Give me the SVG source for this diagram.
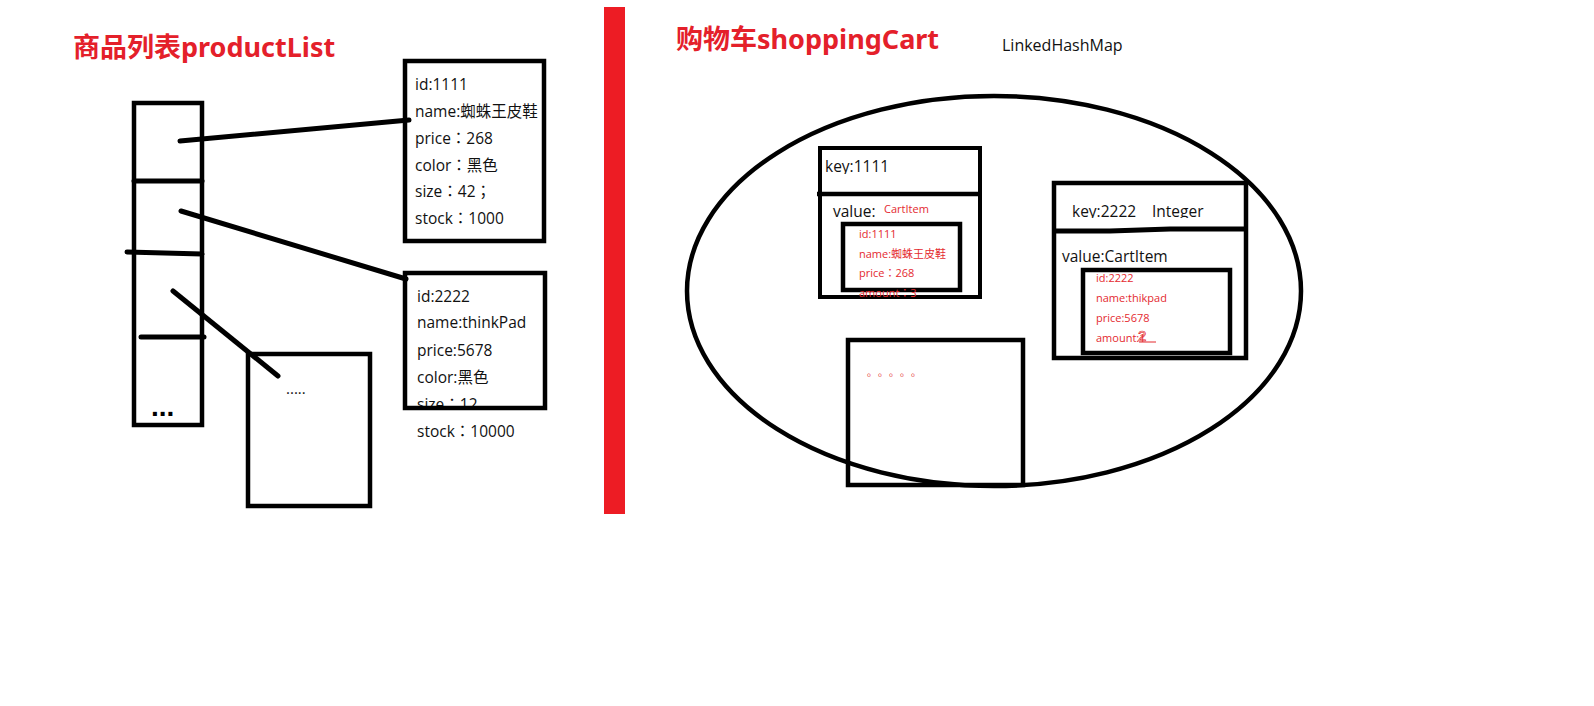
<svg xmlns="http://www.w3.org/2000/svg" width="1594" height="706" viewBox="0 0 1594 706">
<style>
.t{font-family:"Open Sans","Noto Sans CJK TC",sans-serif;font-size:15.5px;fill:#111}
.r{font-family:"Open Sans","Noto Sans CJK TC",sans-serif;font-size:11px;fill:#e42a2f}
.title{font-family:"Noto Sans","Noto Sans CJK SC",sans-serif;font-size:27px;font-weight:bold;fill:#e4202a}
.box{fill:none;stroke:#000;stroke-width:4.5}
.ln{fill:none;stroke:#000;stroke-width:5;stroke-linecap:round}
</style>
<defs>
<clipPath id="cSize"><rect x="405" y="380" width="140" height="30"/></clipPath>
<clipPath id="cAmt"><rect x="840" y="280" width="130" height="19"/></clipPath>
<clipPath id="cKey1"><rect x="820" y="150" width="160" height="24"/></clipPath>
<clipPath id="cKey2"><rect x="1056" y="190" width="188" height="28"/></clipPath>
</defs>
<rect width="1594" height="706" fill="#fff"/>

<text class="title" x="73" y="57">商品列表productList</text>
<text class="title" x="676" y="49">购物车shoppingCart</text>
<text class="t" x="1002" y="51" style="font-size:16px">LinkedHashMap</text>

<rect id="divider" x="604" y="7" width="21" height="507" fill="#ed1c24"/>

<g id="productList">
<rect class="box" x="134" y="103" width="68" height="322"/>
<line class="ln" x1="134" y1="181" x2="202" y2="181"/>
<line class="ln" x1="127" y1="252" x2="202" y2="254"/>
<line class="ln" x1="141" y1="337" x2="204" y2="337"/>
<text x="151" y="416" style="font-family:'Liberation Sans',sans-serif;font-size:28px;font-weight:bold;fill:#000">...</text>
</g>

<g id="product1">
<text class="t" x="415" y="90">id:1111</text>
<text class="t" x="415" y="117">name:蜘蛛王皮鞋</text>
<text class="t" x="415" y="144">price：268</text>
<text class="t" x="415" y="171">color：黑色</text>
<text class="t" x="415" y="197">size：42；</text>
<text class="t" x="415" y="224">stock：1000</text>
<rect class="box" x="405" y="61" width="139" height="180"/>
</g>

<g id="product2">
<text class="t" x="417" y="302">id:2222</text>
<text class="t" x="417" y="328">name:thinkPad</text>
<text class="t" x="417" y="356">price:5678</text>
<text class="t" x="417" y="383">color:黑色</text>
<text class="t" x="417" y="410" clip-path="url(#cSize)">size：12</text>
<text class="t" x="417" y="437">stock：10000</text>
<rect class="box" x="405" y="273" width="140" height="135"/>
</g>

<g id="productMore">
<rect class="box" x="248" y="354" width="122" height="152"/>
<text class="t" x="286" y="394" style="font-size:15px">.....</text>
</g>

<g id="connectors">
<line class="ln" x1="180" y1="141" x2="409" y2="120"/>
<line class="ln" x1="181" y1="211" x2="406" y2="279"/>
<line class="ln" x1="173" y1="291" x2="278" y2="376"/>
</g>

<g id="cartMap">
<ellipse cx="994" cy="291" rx="307" ry="195" fill="none" stroke="#000" stroke-width="4.5"/>
</g>

<g id="entry1">
<rect class="box" x="820" y="148" width="160" height="149" style="stroke-width:4"/>
<line class="ln" x1="817" y1="194" x2="980" y2="194" style="stroke-linecap:butt;stroke-width:4.5"/>
<text class="t" x="825" y="172" clip-path="url(#cKey1)">key:1111</text>
<text class="t" x="833" y="217">value:</text>
<text class="r" x="884" y="213">CartItem</text>
<rect class="box" x="843" y="224" width="117" height="66"/>
<text class="r" x="859" y="238">id:1111</text>
<text class="r" x="859" y="258">name:蜘蛛王皮鞋</text>
<text class="r" x="859" y="277">price：268</text>
<text class="r" x="859" y="297" clip-path="url(#cAmt)">amount：3</text>
</g>

<g id="entry2">
<rect class="box" x="1054" y="183" width="192" height="175"/>
<polyline class="ln" points="1054,231 1110,231 1170,229 1246,229" style="stroke-linecap:butt;stroke-width:5"/>
<text class="t" x="1072" y="217" clip-path="url(#cKey2)">key:2222<tspan x="1152">Integer</tspan></text>
<text class="t" x="1062" y="262">value:CartItem</text>
<rect class="box" x="1083" y="270" width="147" height="83"/>
<text class="r" x="1096" y="282">id:2222</text>
<text class="r" x="1096" y="302">name:thikpad</text>
<text class="r" x="1096" y="322">price:5678</text>
<text class="r" x="1096" y="342">amount:1</text>
<text x="1138" y="341" style="font-family:'Liberation Sans',sans-serif;font-size:15px;fill:none;stroke:#e42a2f;stroke-width:0.7">2</text>
<line x1="1139" y1="342" x2="1156" y2="342" stroke="#e42a2f" stroke-width="1"/>
</g>

<g id="entryMore">
<rect class="box" x="848" y="340" width="175" height="145"/>
<text class="r" x="867 878 889 900 911" y="376" style="font-family:'Noto Sans CJK SC',sans-serif;font-size:10px">。。。。。</text>
</g>
</svg>
